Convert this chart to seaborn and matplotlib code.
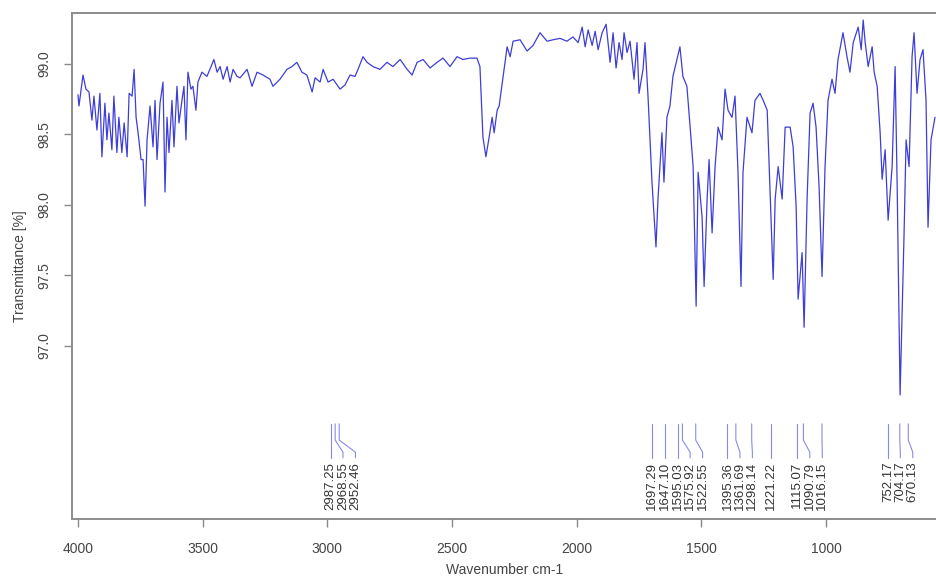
import matplotlib
matplotlib.use('Agg')
import matplotlib.pyplot as plt
import matplotlib.transforms as mtransforms
import numpy as np
import pandas as pd
import seaborn as sns

# spectrum, split by region (wavenumber cm-1, transmittance %)
wn_oh = [4000, 3996, 3980, 3968, 3956, 3944, 3936, 3924, 3912, 3904,
         3892, 3884, 3876, 3864, 3856, 3844, 3836, 3824, 3815, 3803,
         3795, 3783, 3775, 3767, 3759, 3747, 3739, 3731, 3723, 3711,
         3699, 3691, 3683, 3671, 3659, 3651, 3643, 3635, 3623, 3615,
         3603, 3595, 3583, 3575, 3567, 3559, 3547, 3539, 3527, 3519,
         3503, 3483, 3471, 3455, 3442, 3430, 3418, 3402, 3390, 3378, 3362]
tr_oh = [98.78, 98.70, 98.92, 98.82, 98.80, 98.60, 98.77, 98.53, 98.79, 98.34,
         98.72, 98.46, 98.65, 98.39, 98.77, 98.37, 98.62, 98.37, 98.58, 98.34,
         98.79, 98.77, 98.96, 98.62, 98.51, 98.32, 98.32, 97.99, 98.46, 98.70,
         98.41, 98.74, 98.32, 98.72, 98.87, 98.09, 98.62, 98.37, 98.74, 98.41,
         98.84, 98.58, 98.74, 98.84, 98.46, 98.94, 98.82, 98.84, 98.67, 98.87,
         98.94, 98.91, 98.96, 99.03, 98.94, 98.98, 98.89, 98.98, 98.87, 98.96, 98.91]

wn_ch = [3350, 3322, 3302, 3282, 3258, 3230, 3218, 3190, 3162, 3142,
         3122, 3102, 3082, 3061, 3049, 3029, 3017, 2997, 2977, 2949,
         2929, 2909, 2889, 2877, 2857, 2841, 2817, 2789, 2761, 2737,
         2708, 2680, 2660, 2640, 2616, 2588, 2560, 2536, 2508, 2480,
         2456, 2428, 2400, 2388]
tr_ch = [98.90, 98.96, 98.84, 98.94, 98.92, 98.89, 98.84, 98.89, 98.96, 98.98,
         99.01, 98.94, 98.92, 98.80, 98.90, 98.87, 98.96, 98.87, 98.89, 98.82,
         98.85, 98.92, 98.91, 98.96, 99.05, 99.01, 98.98, 98.96, 99.01, 98.98,
         99.03, 98.96, 98.92, 99.01, 99.03, 98.97, 99.01, 99.04, 98.98, 99.05,
         99.03, 99.04, 99.04, 98.98]

wn_mid = [2376, 2364, 2351, 2339, 2331, 2319, 2311, 2295, 2279, 2267,
          2255, 2227, 2199, 2175, 2147, 2119, 2095, 2067, 2039, 2015,
          1994, 1978, 1966, 1954, 1938, 1926, 1914, 1898, 1882, 1866,
          1854, 1842, 1830, 1818, 1810, 1798, 1786, 1770, 1758, 1750,
          1734, 1726]
tr_mid = [98.48, 98.34, 98.48, 98.62, 98.51, 98.67, 98.70, 98.91, 99.12, 99.05,
          99.16, 99.17, 99.09, 99.13, 99.22, 99.16, 99.17, 99.18, 99.16, 99.19,
          99.15, 99.26, 99.12, 99.24, 99.13, 99.23, 99.10, 99.22, 99.28, 99.01,
          99.22, 98.97, 99.15, 99.03, 99.22, 99.08, 99.16, 98.89, 99.15, 98.79,
          98.96, 99.15]

wn_fp = [1714, 1698, 1682, 1674, 1658, 1650, 1638, 1626, 1614, 1598,
         1586, 1574, 1558, 1545, 1533, 1521, 1513, 1497, 1489, 1477,
         1469, 1457, 1445, 1433, 1417, 1405, 1393, 1377, 1365, 1353,
         1341, 1333, 1317, 1297, 1285, 1265, 1252, 1236, 1224, 1212,
         1204, 1192, 1176, 1164, 1144, 1132, 1120, 1112, 1096, 1088,
         1076, 1064, 1052, 1040, 1028, 1016, 1004, 992, 976, 964,
         952, 932, 916, 904, 891, 871, 859, 851, 843, 831,
         815, 807, 795, 783, 775, 763, 751, 735, 723, 715,
         703, 687, 679, 667, 655, 647, 635, 623, 611, 599,
         591, 579, 563]
tr_fp = [98.77, 98.16, 97.70, 98.04, 98.51, 98.16, 98.62, 98.70, 98.91, 99.03,
         99.12, 98.91, 98.84, 98.55, 98.27, 97.28, 98.23, 97.91, 97.42, 98.04,
         98.32, 97.80, 98.27, 98.55, 98.46, 98.82, 98.67, 98.62, 98.77, 98.23,
         97.42, 98.23, 98.62, 98.51, 98.74, 98.79, 98.74, 98.67, 98.06, 97.47,
         98.04, 98.27, 98.04, 98.55, 98.55, 98.41, 97.99, 97.33, 97.66, 97.13,
         98.04, 98.65, 98.72, 98.55, 98.13, 97.49, 98.27, 98.74, 98.89, 98.79,
         99.03, 99.22, 99.05, 98.94, 99.15, 99.26, 99.10, 99.31, 99.15, 98.98,
         99.12, 98.94, 98.84, 98.51, 98.18, 98.39, 97.89, 98.27, 98.98, 98.16,
         96.65, 97.80, 98.46, 98.27, 99.05, 99.22, 98.79, 99.03, 99.10, 98.74,
         97.84, 98.46, 98.62]

# picked peaks
peak_wn = [2987.25, 2968.55, 2952.46, 1697.29, 1647.10, 1595.03, 1575.92, 1522.55,
           1395.36, 1361.69, 1298.14, 1221.22, 1115.07, 1090.79, 1016.15,
           752.17, 704.17, 670.13]
peak_labels = ['2987.25', '2968.55', '2952.46', '1697.29', '1647.10', '1595.03',
               '1575.92', '1522.55', '1395.36', '1361.69', '1298.14', '1221.22',
               '1115.07', '1090.79', '1016.15', '752.17', '704.17', '670.13']

df = pd.DataFrame({
    'wavenumber': wn_oh + wn_ch + wn_mid + wn_fp,
    'transmittance': tr_oh + tr_ch + tr_mid + tr_fp,
})

sns.set_style('white')
plt.rcParams['font.family'] = ['Liberation Sans', 'DejaVu Sans']

fig = plt.figure(figsize=(9.37, 5.76), dpi=100)
ax = fig.add_axes([72.5 / 937, 57 / 576, (937 - 72.5) / 937, 506 / 576])

sns.lineplot(data=df, x='wavenumber', y='transmittance', estimator=None, sort=False,
             color='#3d3dd8', lw=0.9, ax=ax)

ax.set_xlim(4022, 555)
ax.set_ylim(95.77, 99.36)
ax.set_xticks(np.arange(4000, 999, -500))
ax.set_yticks([97.0, 97.5, 98.0, 98.5, 99.0])
ax.set_yticklabels(['97.0', '97.5', '98.0', '98.5', '99.0'], rotation=90, va='center')

# R-style outward ticks
ax.tick_params(axis='both', bottom=True, left=True, direction='out', length=5.5, width=1,
               color='#8a8a8a', labelcolor='#444444', labelsize=10)
ax.tick_params(axis='x', pad=11)
ax.tick_params(axis='y', pad=10)

for side in ['left', 'top', 'bottom']:
    ax.spines[side].set_color('#8c8c8c')
    ax.spines[side].set_linewidth(1.4)
ax.spines['right'].set_visible(False)

ax.set_xlabel('Wavenumber cm-1', fontsize=10, color='#444444', labelpad=5)
ax.set_ylabel('Transmittance [%]', fontsize=10, color='#444444', labelpad=7)

# peak annotations: fan the labels out so they do not overlap
trans = mtransforms.blended_transform_factory(ax.transData, ax.transAxes)
spacing = 50
prev = None
for p, lab in zip(peak_wn, peak_labels):
    lx = p if prev is None else min(p, prev - spacing)
    prev = lx
    ax.plot([p, p, lx, lx], [0.188, 0.156, 0.132, 0.121], transform=trans,
            color='#8a8ae6', lw=0.8)
    ax.text(lx, 0.113, lab, rotation=90, ha='center', va='top', fontsize=9.5,
            color='#333333', transform=trans)

fig.savefig('out.png', dpi=100)
